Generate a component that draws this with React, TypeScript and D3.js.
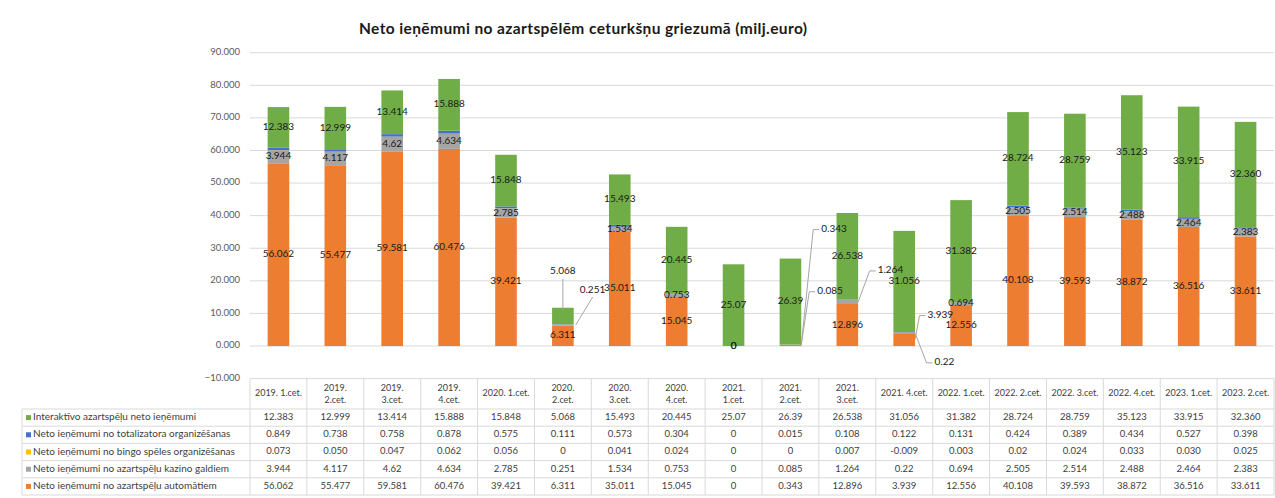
import React from 'react'
import * as d3 from 'd3'

// quarters (x categories / table header)
const quarters = [
  '2019. 1.cet.', '2019. 2.cet.', '2019. 3.cet.', '2019. 4.cet.',
  '2020. 1.cet.', '2020. 2.cet.', '2020. 3.cet.', '2020. 4.cet.',
  '2021. 1.cet.', '2021. 2.cet.', '2021. 3.cet.', '2021. 4.cet.',
  '2022. 1.cet.', '2022. 2.cet.', '2022. 3.cet.', '2022. 4.cet.',
  '2023. 1.cet.', '2023. 2.cet.'
]

// values as printed in the table (millions of euro)
const interaktivo = ['12.383', '12.999', '13.414', '15.888', '15.848', '5.068', '15.493', '20.445', '25.07', '26.39', '26.538', '31.056', '31.382', '28.724', '28.759', '35.123', '33.915', '32.360']
const totalizators = ['0.849', '0.738', '0.758', '0.878', '0.575', '0.111', '0.573', '0.304', '0', '0.015', '0.108', '0.122', '0.131', '0.424', '0.389', '0.434', '0.527', '0.398']
const bingo = ['0.073', '0.050', '0.047', '0.062', '0.056', '0', '0.041', '0.024', '0', '0', '0.007', '-0.009', '0.003', '0.02', '0.024', '0.033', '0.030', '0.025']
const kazino = ['3.944', '4.117', '4.62', '4.634', '2.785', '0.251', '1.534', '0.753', '0', '0.085', '1.264', '0.22', '0.694', '2.505', '2.514', '2.488', '2.464', '2.383']
const automati = ['56.062', '55.477', '59.581', '60.476', '39.421', '6.311', '35.011', '15.045', '0', '0.343', '12.896', '3.939', '12.556', '40.108', '39.593', '38.872', '36.516', '33.611']

const yTicks = [-10, 0, 10, 20, 30, 40, 50, 60, 70, 80, 90]

// stack order bottom -> top
const series = [
  { key: 'automati', name: 'Neto ieņēmumi no azartspēļu automātiem', color: '#ED7D31', values: automati, label: true },
  { key: 'kazino', name: 'Neto ieņēmumi no azartspēļu kazino galdiem', color: '#A5A5A5', values: kazino, label: true },
  { key: 'bingo', name: 'Neto ieņēmumi no bingo spēles organizēšanas', color: '#FFC000', values: bingo, label: false },
  { key: 'totalizators', name: 'Neto ieņēmumi no totalizatora organizēšanas', color: '#4472C4', values: totalizators, label: false },
  { key: 'interaktivo', name: 'Interaktīvo azartspēļu neto ieņēmumi', color: '#70AD47', values: interaktivo, label: true }
]

// header cells that wrap onto two lines
const wrapped = [1, 2, 3, 5, 6, 7, 8, 9, 10]

// data labels moved out of the bars, with leader lines
const callouts = [
  { i: 5, key: 'interaktivo', kind: 'above', dx: 0, dy: -36 },
  { i: 5, key: 'kazino', kind: 'diag', dx: 6, dy: -35 },
  { i: 9, key: 'automati', kind: 'elbow', dx: 20, dy: -116 },
  { i: 9, key: 'kazino', kind: 'elbow', dx: 16, dy: -53 },
  { i: 10, key: 'kazino', kind: 'elbow', dx: 19.5, dy: -31 },
  { i: 11, key: 'automati', kind: 'elbow', dx: 12.5, dy: -24 },
  { i: 11, key: 'kazino', kind: 'elbow', dx: 19.5, dy: 30 }
]

const W = 1275
const H = 498
const plotLeft = 250
const plotRight = 1274
const tableLeft = 22
const font = 'Lato, "Open Sans", sans-serif'

export default function App() {
  const rows = quarters.map((q, i) => {
    const r: any = { q }
    series.forEach(s => { r[s.key] = +s.values[i] })
    return r
  })
  const stacked = d3.stack<any>()
    .keys(series.map(s => s.key))
    .offset(d3.stackOffsetDiverging)(rows)

  const x = d3.scaleBand().domain(quarters).range([plotLeft, plotRight])
    .paddingInner(0.62).paddingOuter(0.31)
  const col = d3.scaleBand().domain(quarters).range([plotLeft, plotRight])
  const y = d3.scaleLinear().domain([-10, 90]).range([378.6, 52.7])
  const fmt = d3.format('.3f')

  const tableTop = y(-10)
  const headerBottom = 409
  const rowH = 17.2
  const tableRows = series.slice().reverse()
  const tableBottom = headerBottom + rowH * tableRows.length

  const calloutOf = (i: number, key: string) => callouts.find(c => c.i === i && c.key === key)

  return (
    <svg width={W} height={H} style={{ position: 'absolute', left: 0, top: 0, background: '#fff' }}
      fontFamily={font}>
      <text x={583} y={30} textAnchor="middle" dominantBaseline="middle" fontSize={15.5}
        fontWeight={700} fill="#1a1a1a" textLength={448} lengthAdjust="spacing">
        Neto ieņēmumi no azartspēlēm ceturkšņu griezumā (milj.euro)
      </text>

      {yTicks.map(t => (
        <g key={t}>
          <line x1={plotLeft} x2={plotRight} y1={y(t)} y2={y(t)} stroke="#D9D9D9" strokeWidth={1} />
          <text x={240} y={y(t)} textAnchor="end" dominantBaseline="middle" fontSize={9.5} fill="#595959">
            {fmt(t)}
          </text>
        </g>
      ))}

      {stacked.map((layer, si) => (
        <g key={layer.key} fill={series[si].color}>
          {layer.map((d, i) => {
            const y0 = y(d[0]), y1 = y(d[1])
            return <rect key={i} x={x(quarters[i])} width={x.bandwidth()}
              y={Math.min(y0, y1)} height={Math.abs(y0 - y1)} />
          })}
        </g>
      ))}

      {stacked.map((layer, si) => {
        const s = series[si]
        if (!s.label) return null
        return (
          <g key={'lab' + layer.key} fontSize={10} fill="#1a1a1a">
            {layer.map((d, i) => {
              const cx = x(quarters[i])! + x.bandwidth() / 2
              const mid = y((d[0] + d[1]) / 2)
              const c = calloutOf(i, s.key)
              if (!c) {
                return <text key={i} x={cx} y={mid} textAnchor="middle" dominantBaseline="middle">
                  {s.values[i]}
                </text>
              }
              if (c.kind === 'above') {
                const top = y(d[1])
                const ly = top + c.dy
                return <g key={i}>
                  <line x1={cx} x2={cx} y1={ly + 7} y2={top + 3} stroke="#A6A6A6" />
                  <text x={cx} y={ly} textAnchor="middle" dominantBaseline="middle">{s.values[i]}</text>
                </g>
              }
              const ax = x(quarters[i])! + x.bandwidth()
              const lx = ax + c.dx, ly = mid + c.dy
              const pts = c.kind === 'diag'
                ? [[ax + 2, mid], [lx + 13, ly + 7]]
                : [[ax, mid], [lx - 8, ly], [lx - 2, ly]]
              return <g key={i}>
                <path d={d3.line()(pts as [number, number][])!} fill="none" stroke="#A6A6A6" />
                <text x={lx} y={ly} dominantBaseline="middle">{s.values[i]}</text>
              </g>
            })}
          </g>
        )
      })}

      {/* data table */}
      <g stroke="#D9D9D9" strokeWidth={1}>
        {d3.range(quarters.length + 1).map(k => {
          const xx = plotLeft + col.step() * k
          return <line key={k} x1={xx} x2={xx} y1={tableTop} y2={tableBottom} />
        })}
        <line x1={tableLeft} x2={tableLeft} y1={headerBottom} y2={tableBottom} />
        {d3.range(tableRows.length + 1).map(k => (
          <line key={'h' + k} x1={tableLeft} x2={plotRight}
            y1={headerBottom + rowH * k} y2={headerBottom + rowH * k} />
        ))}
      </g>

      <g fontSize={9} fill="#404040" textAnchor="middle">
        {quarters.map((q, i) => {
          const cx = col(q)! + col.bandwidth() / 2
          const midH = (tableTop + headerBottom) / 2
          if (wrapped.includes(i)) {
            const [a, b] = q.split(' ')
            return <text key={q} x={cx} y={midH}>
              <tspan x={cx} dy={-3}>{a}</tspan>
              <tspan x={cx} dy={12}>{b}</tspan>
            </text>
          }
          return <text key={q} x={cx} y={midH} dominantBaseline="middle">{q}</text>
        })}
      </g>

      {tableRows.map((s, r) => {
        const cy = headerBottom + rowH * r + rowH / 2
        return (
          <g key={s.key} fill="#404040">
            <rect x={26} y={cy - 2.5} width={5} height={5} fill={s.color} />
            <text x={33} y={cy} dominantBaseline="middle" fontSize={10}>{s.name}</text>
            {s.values.map((v, i) => (
              <text key={i} x={col(quarters[i])! + col.bandwidth() / 2} y={cy} fontSize={9.5}
                textAnchor="middle" dominantBaseline="middle">{v}</text>
            ))}
          </g>
        )
      })}
    </svg>
  )
}
